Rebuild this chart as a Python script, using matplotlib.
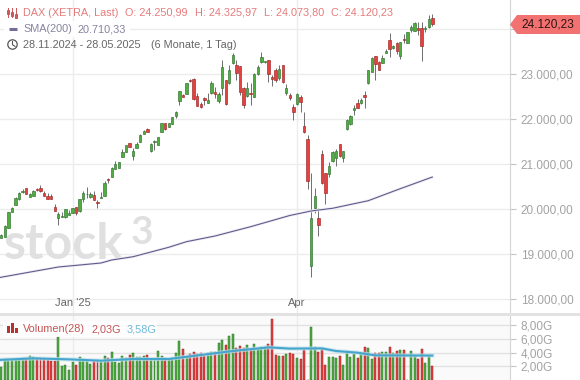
"""DAX candlestick chart with SMA(200) and a volume panel, stock3 style."""
import matplotlib
matplotlib.use("Agg")
import matplotlib.pyplot as plt
from matplotlib.patches import Circle, Polygon, Rectangle

plt.rcParams["font.family"] = ["Liberation Sans", "DejaVu Sans"]

opens = [19364, 19386, 19586, 19941, 20097, 20215, 20371, 20460, 20275, 20297,
         20445, 20460, 20356, 20282, 20282, 20038, 19808, 19823, 19815, 19875,
         19919, 20038, 19956, 20215, 20326, 20267, 20304, 20156, 20252, 20297,
         20667, 20719, 20897, 20919, 21163, 21275, 21467, 21186, 21363, 21497,
         21674, 21770, 21289, 21482, 21423, 21719, 21903, 21829, 21889, 22074,
         22400, 22533, 22563, 22866, 22889, 22503, 22333, 22459, 22355, 22570,
         22592, 22407, 22681, 22859, 22792, 23237, 23200, 23170, 22681, 22511,
         22570, 22496, 22999, 23259, 23259, 23303, 22926, 23088, 22903, 23192,
         22570, 22533, 22259, 22333, 22481, 21844, 21549, 18741, 20030, 19793,
         21223, 20793, 20786, 21067, 21126, 21437, 21141, 21770, 21881, 22207,
         22348, 22355, 22526, 22800, 23051, 23392, 23259, 23251, 23474, 23748,
         23585, 23688, 23407, 23777, 23696, 23985, 23963, 24014, 24014, 24007,
         24044, 24250.99]
highs = [19445, 19645, 19941, 20038, 20275, 20378, 20438, 20467, 20349, 20423,
         20460, 20526, 20400, 20349, 20341, 20104, 19926, 19941, 20008, 19978,
         20030, 20045, 20230, 20400, 20489, 20378, 20400, 20200, 20386, 20630,
         20697, 20926, 21060, 21045, 21326, 21430, 21475, 21349, 21489, 21667,
         21756, 21800, 21467, 21541, 21608, 21918, 21918, 21918, 22052, 22177,
         22629, 22548, 22807, 22889, 22903, 22570, 22385, 22496, 22570, 22844,
         22703, 22607, 23311, 22866, 23200, 23459, 23311, 23177, 22718, 22829,
         22792, 23014, 23200, 23488, 23296, 23311, 22977, 23125, 23200, 23200,
         22777, 22570, 22333, 22570, 22533, 22163, 21645, 20793, 20460, 20015,
         21312, 20808, 21037, 21289, 21326, 21437, 21297, 21992, 22089, 22303,
         22437, 22474, 22629, 23089, 23370, 23400, 23296, 23422, 23555, 23903,
         23644, 23703, 23718, 23881, 23940, 24088, 24148, 24148, 24148, 24066,
         24311, 24325.97]
lows = [19349, 19378, 19578, 19934, 20089, 20208, 20349, 20334, 20267, 20289,
        20408, 20386, 20289, 20223, 20223, 19956, 19645, 19815, 19808, 19867,
        19912, 19875, 19941, 20163, 20252, 20237, 20200, 20030, 20252, 20289,
        20586, 20712, 20889, 20912, 21156, 21267, 21378, 21089, 21356, 21489,
        21667, 21700, 21260, 21312, 21415, 21700, 21755, 21815, 21881, 22014,
        22311, 22481, 22555, 22822, 22429, 22289, 22237, 22311, 22348, 22563,
        22459, 22348, 22533, 22318, 22785, 23222, 22866, 22533, 22251, 22496,
        22311, 22481, 22977, 23237, 23244, 22829, 22733, 22829, 22866, 22807,
        22533, 22422, 21977, 22311, 22163, 21682, 20438, 18497, 19904, 19400,
        20556, 20112, 20719, 21052, 20956, 21163, 21037, 21755, 21866, 22089,
        22237, 22333, 22237, 22777, 23044, 22866, 23089, 23237, 23459, 23385,
        23548, 23444, 23333, 23681, 23688, 23940, 23948, 23866, 23296, 23940,
        24029, 24073.80]
closes = [19423, 19623, 19926, 20023, 20245, 20363, 20408, 20341, 20334, 20400,
          20415, 20400, 20297, 20230, 20230, 19963, 19882, 19838, 19993, 19912,
          20015, 19904, 20215, 20349, 20341, 20326, 20208, 20126, 20267, 20571,
          20652, 20904, 21000, 21037, 21260, 21415, 21386, 21289, 21445, 21645,
          21726, 21712, 21445, 21512, 21593, 21903, 21770, 21903, 22037, 22148,
          22615, 22496, 22792, 22837, 22437, 22296, 22266, 22414, 22414, 22792,
          22548, 22548, 23148, 22326, 23088, 23414, 23014, 22607, 22311, 22681,
          22555, 22999, 23148, 23370, 23281, 22992, 22881, 22866, 23111, 22829,
          22681, 22459, 22163, 22555, 22385, 21719, 20630, 19793, 20289, 19645,
          20571, 20363, 20956, 21267, 21297, 21178, 21282, 21977, 22066, 22244,
          22252, 22422, 22496, 23081, 23355, 23229, 23096, 23355, 23511, 23563,
          23629, 23518, 23703, 23762, 23926, 24044, 24133, 23977, 23629, 24022,
          24214, 24120.23]

sma_idx = [-1, 16, 28, 31, 37, 47, 52, 60, 70, 81, 87, 93, 103, 111, 121]
sma_values = [18470, 18711, 18800, 18867, 18940, 19149, 19274, 19400, 19607,
              19856, 19956, 20016, 20184, 20422, 20710.33]

volumes = [1.85, 3.02, 3.07, 2.93, 2.93, 2.93, 3.17, 3.27, 3.51, 3.32,
           3.17, 3.17, 3.07, 2.93, 2.78, 2.78, 6.34, 2.05, 2.15, 1.46,
           2.59, 2.2, 3.32, 3.07, 2.93, 2.34, 2.83, 2.83, 2.59, 3.51,
           3.17, 4.1, 2.59, 2.54, 3.51, 3.17, 3.66, 4.0, 3.41, 3.32,
           3.51, 3.66, 3.07, 3.17, 4.24, 3.51, 3.17, 3.02, 3.27, 3.9,
           5.66, 4.49, 3.41, 3.8, 4.1, 3.8, 4.0, 3.56, 4.0, 4.05,
           4.15, 5.37, 5.85, 5.12, 6.44, 6.73, 4.63, 4.98, 4.63, 5.12,
           4.39, 5.27, 4.49, 4.78, 4.78, 5.27, 8.93, 3.66, 3.51, 3.51,
           3.8, 4.0, 3.8, 3.2, 3.07, 4.4, 0.0, 7.71, 4.78, 4.1,
           4.5, 2.2, 3.4, 3.32, 3.22, 3.51, 2.2, 4.2, 3.32, 3.8,
           3.22, 3.8, 4.78, 4.63, 3.07, 3.95, 3.95, 4.1, 4.1, 4.78,
           4.0, 4.24, 4.39, 4.34, 0.0, 4.2, 3.51, 3.12, 4.49, 2.49,
           3.51, 2.03]
vol_avg_idx = [-1, 9, 19, 28, 37, 47, 56, 65, 75, 81, 90, 94, 100, 105, 121]
vol_avg = [2.93, 3.17, 3.02, 2.83, 3.07, 3.07, 3.66, 4.24, 4.78, 4.6, 4.63, 4.24,
           4.0, 3.61, 3.58]

price_ticks = [18000, 19000, 20000, 21000, 22000, 23000, 24000]
price_labels = ["18.000,00", "19.000,00", "20.000,00", "21.000,00", "22.000,00", "23.000,00", ""]
vol_ticks = [2, 4, 6, 8]
vol_labels = ["2,00G", "4,00G", "6,00G", "8,00G"]
month_idx = [20, 83]
month_labels = ["Jan '25", "Apr"]

GREEN, GREEN_EDGE = "#4fae3f", "#2f702f"
RED, RED_EDGE = "#e6403f", "#9a2626"
GRID = "#ececec"

W, H = 580, 380
PANEL_R, PRICE_B, VOL_T = 510, 313, 316

fig = plt.figure(figsize=(5.8, 3.8), dpi=100)

ax = fig.add_axes([0, 1 - PRICE_B / H, PANEL_R / W, PRICE_B / H])
vol = fig.add_axes([0, 0, PANEL_R / W, 1 - VOL_T / H])
over = fig.add_axes([0, 0, 1, 1], zorder=5)
over.set_xlim(0, W)
over.set_ylim(H, 0)
over.axis("off")

xlim = (-0.365, 142.8)
ax.set_xlim(xlim)
ax.set_ylim(17689, 24644)
vol.set_xlim(xlim)
vol.set_ylim(0, 9.37)
vol.set_facecolor("#fafafa")

for a in (ax, vol):
    for side in ("top", "left", "bottom"):
        a.spines[side].set_visible(False)
    a.spines["right"].set_color("#d4d4d4")
    a.yaxis.tick_right()
    a.tick_params(axis="y", length=4.3, width=0.8, color="#c4c4c4", labelcolor="#a3a3a3",
                  labelsize=8.5, pad=3.5)
    a.set_axisbelow(True)
    a.grid(True, color=GRID, linewidth=1)
    a.set_xticks(month_idx)

ax.set_yticks(price_ticks, price_labels)
ax.set_xticks(month_idx, [])
ax.tick_params(axis="x", length=2.2, width=0.8, color="#444444", direction="out", pad=0)
vol.set_yticks(vol_ticks, vol_labels)
vol.set_xticks(month_idx, [])
vol.tick_params(axis="x", length=0)
vol.grid(True, axis="y", color="#e2e2e2", linewidth=1)

# candles
xs = list(range(len(closes)))
up = [c >= o for o, c in zip(opens, closes)]
ax.vlines(xs, lows, highs, color="#6e6e6e", linewidth=0.7, zorder=2)
ax.bar(xs, [abs(c - o) for o, c in zip(opens, closes)],
       bottom=[min(o, c) for o, c in zip(opens, closes)], width=0.66,
       color=[GREEN if u else RED for u in up],
       edgecolor=[GREEN_EDGE if u else RED_EDGE for u in up], linewidth=0.45, zorder=3)

ax.plot(sma_idx, sma_values, color="#eeedf4", linewidth=2.0, zorder=3.5, solid_capstyle="round")
ax.plot(sma_idx, sma_values, color="#5f5c8c", linewidth=0.8, zorder=4)

# volume
vol.bar(xs, volumes, width=0.55, color=[GREEN if u else RED for u in up],
        edgecolor=[GREEN_EDGE if u else RED_EDGE for u in up], linewidth=0.35, zorder=2)
vol.plot(vol_avg_idx, vol_avg, color="#bfe0ec", linewidth=3.0, alpha=0.7, zorder=3)
vol.plot(vol_avg_idx, vol_avg, color="#45a5cc", linewidth=1.5, zorder=4)

# band between the panels
over.add_patch(Rectangle((0, PRICE_B), W, VOL_T - PRICE_B, color="#e2e2e2", linewidth=0))

# watermark sits under the candles
ax.text(4, 259, "stock", transform=over.transData, fontsize=36, family="Lato", weight="bold",
        color="#e0e0e0", zorder=0.6, va="baseline", clip_on=False)
ax.text(131, 244, "3", transform=over.transData, fontsize=28, family="Lato", weight="bold",
        color="#e0e0e0", zorder=0.6, va="baseline", clip_on=False)

for idx, label in zip(month_idx, month_labels):
    over.text(idx * 3.563 + 1.3, 303, label, ha="center", va="center", fontsize=8, color="#666666")

# last price tag
over.add_patch(Polygon([(510, 24.5), (517, 15), (580, 15), (580, 34), (517, 34)],
                       closed=True, color="#f27272", linewidth=0))
over.text(521, 24.5, "24.120,23", va="center", fontsize=8.6, color="#301414")

# header rows
over.add_patch(Rectangle((4, 21), 126, 16, color="white", linewidth=0))
HEAD = "#e57b7b"
for tx, s in [(23, "DAX (XETRA, Last)"), (125, "O: 24.250,99"), (195, "H: 24.325,97"),
              (264, "L: 24.073,80"), (331, "C: 24.120,23")]:
    over.text(tx, 12.5, s, va="center", fontsize=7.8, color=HEAD)
for bx in (7.5, 11.5, 15.5):
    over.plot([bx, bx], [8, 17], color="#c95555", linewidth=0.7)
    over.add_patch(Rectangle((bx - 1, 10 + (bx - 7.5) / 2), 2, 4, fill=False, edgecolor="#c95555", linewidth=0.7))

over.plot([9, 17], [29, 29], color="#716f9a", linewidth=2.2, solid_capstyle="butt")
over.text(23, 29, "SMA(200)", va="center", fontsize=7.8, color="#85839f")
over.text(78, 29, "20.710,33", va="center", fontsize=7.8, color="#85839f")

over.add_patch(Circle((12.5, 44.5), 4.7, fill=False, edgecolor="#555555", linewidth=0.9))
over.plot([12.5, 12.5, 15], [41.5, 44.8, 46.3], color="#555555", linewidth=0.8)
over.text(23, 44.5, "28.11.2024 - 28.05.2025", va="center", fontsize=7.8, color="#666666")
over.text(151, 44.5, "(6 Monate, 1 Tag)", va="center", fontsize=7.8, color="#666666")

# volume legend
over.add_patch(Rectangle((3, 321), 154, 16, color="white", alpha=0.85, linewidth=0))
for bx, top in [(7, 326), (11, 322.5), (15, 328)]:
    over.add_patch(Rectangle((bx, top), 3, 333 - top, color="#b83232", linewidth=0))
over.text(23, 329, "Volumen(28)", va="center", fontsize=7.8, color="#c45454")
over.text(91, 329, "2,03G", va="center", fontsize=7.8, color="#c45454")
over.text(127, 329, "3,58G", va="center", fontsize=7.8, color="#70b8d8")

fig.savefig("out.png", dpi=100)
